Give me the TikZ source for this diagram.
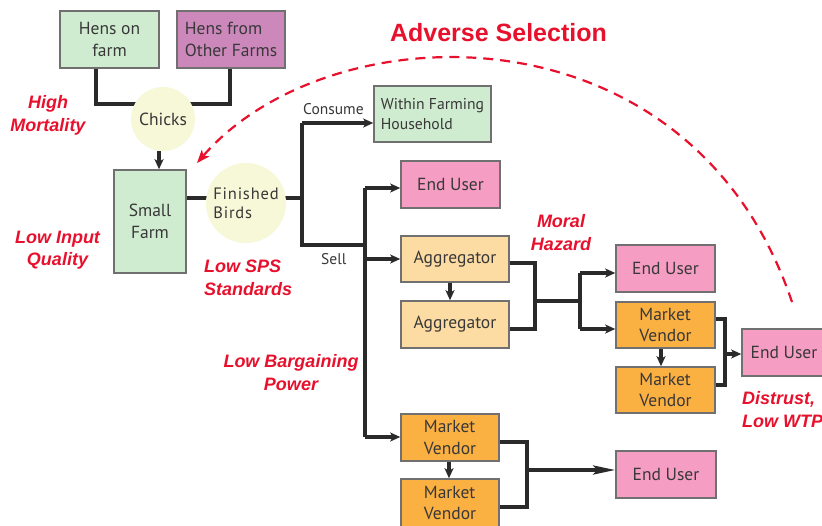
\documentclass[tikz,border=0pt]{standalone}
\usepackage{fontspec}
\setmainfont{PT Sans}
\newfontfamily\redfont{Liberation Sans}
\usetikzlibrary{arrows.meta,backgrounds}
\definecolor{greenbox}{HTML}{D0ECD0}
\definecolor{purplebox}{HTML}{CC88BB}
\definecolor{pinkbox}{HTML}{F69DC3}
\definecolor{aggbox}{HTML}{FDDCA4}
\definecolor{vendbox}{HTML}{FBB042}
\definecolor{circfill}{HTML}{F6F8D8}
\definecolor{boxline}{HTML}{707070}
\definecolor{ink}{HTML}{383838}
\definecolor{linkcol}{HTML}{2A2A2A}
\definecolor{warn}{HTML}{E8112D}

\begin{document}
\begin{tikzpicture}[x=1pt,y=-1pt,
  box/.style={draw=boxline, line width=1.6pt, inner sep=0pt, text=ink,
    font=\fontsize{17.5}{21.5}\selectfont, align=center},
  blob/.style={circle, fill=circfill, inner sep=0pt, text=ink},
  link/.style={draw=linkcol, line width=3.3pt},
  arr/.style={link, -{Stealth[length=10pt,width=9pt,inset=2.5pt]}},
  longarr/.style={link, -{Stealth[length=22pt,width=9pt,inset=4pt]}},
  warnlbl/.style={text=warn, font=\redfont\bfseries\itshape\fontsize{18}{22.5}\selectfont,
    inner sep=0pt, align=center},
  flowlbl/.style={text=ink, font=\fontsize{15.5}{18}\selectfont, inner sep=0pt},
  dashcurve/.style={draw=warn, line width=2.2pt, dash pattern=on 10pt off 7pt,
    -{Stealth[length=13pt,width=10pt,inset=3pt]}}
]
\useasboundingbox (0,0) rectangle (822,525);

% sources of chicks
\node[box, fill=greenbox, minimum width=99pt, minimum height=57pt] (hens) at (109.5,39.5) {Hens on\\farm};
\node[box, fill=purplebox, minimum width=108pt, minimum height=57pt, align=left] (other) at (231,39.5) {Hens from\\Other Farms};
\node[blob, minimum size=64pt, font=\fontsize{17.5}{21}\selectfont] (chicks) at (163,119) {Chicks};

% the farm and its output
\node[box, fill=greenbox, minimum width=72pt, minimum height=103pt] (farm) at (150,221.5) {Small\\Farm};
\node[blob, minimum size=80pt, align=left, font=\fontsize{16.5}{19}\selectfont] (birds) at (246,203) {\addfontfeature{LetterSpace=5}Finished\\\addfontfeature{LetterSpace=5}Birds};
\node[box, fill=greenbox, minimum width=117pt, minimum height=56pt, align=left,
  font=\fontsize{15.7}{20}\selectfont] (house) at (432.5,114) {Within Farming\\Household};

% market channels
\node[box, fill=pinkbox, minimum width=99pt, minimum height=47pt] (eu1) at (450.5,184.5) {End User};
\node[box, fill=aggbox, minimum width=108pt, minimum height=46pt] (ag1) at (455,259) {Aggregator};
\node[box, fill=aggbox, minimum width=108pt, minimum height=47pt] (ag2) at (455,324.5) {Aggregator};
\node[box, fill=pinkbox, minimum width=99pt, minimum height=47pt] (eu2) at (665.5,268.5) {End User};
\node[box, fill=vendbox, minimum width=99pt, minimum height=46pt, align=left] (mva) at (665.5,325) {Market\\Vendor};
\node[box, fill=vendbox, minimum width=99pt, minimum height=46pt, align=left] (mvb) at (665.5,390) {Market\\Vendor};
\node[box, fill=pinkbox, minimum width=84pt, minimum height=47pt] (eu3) at (784,352.5) {End User};
\node[box, fill=vendbox, minimum width=98pt, minimum height=47pt, align=left] (mvc) at (450,437.5) {Market\\Vendor};
\node[box, fill=vendbox, minimum width=98pt, minimum height=48pt, align=left] (mvd) at (450,503) {Market\\Vendor};
\node[box, fill=pinkbox, minimum width=100pt, minimum height=47pt] (eu4) at (666,474.5) {End User};

% flow labels
\node[flowlbl, anchor=base west] (consume) at (303,114) {Consume};
\node[flowlbl, anchor=base west] (sell) at (321,264) {Sell};

% junction points of the connectors
\coordinate (trunk) at (302,198);
\coordinate (cTop) at (302,123);
\coordinate (cBot) at (302,245);
\coordinate (sTop) at (365,188);
\coordinate (sBot) at (365,437);
\coordinate (aJoin) at (535,301);
\coordinate (aSplit) at (580,301);
\coordinate (vJoin) at (725,354);
\coordinate (bJoin) at (527,470);

\begin{scope}[on background layer]
  \fill[white] (0,0) rectangle (822,525);
  \draw[link] (96,0 |- hens.south) |- (chicks.center |- 0,104);
  \draw[link] (230,0 |- other.south) |- (chicks.center |- 0,104);
  \draw[link] (farm.east |- trunk) -- (trunk);
  \draw[link] (cTop) -- (cBot) -- (sTop |- cBot);
  \draw[link] (sTop) -- (sBot);
  \draw[link] (ag1.east |- 0,263) -| (aJoin |- 0,329) -- (ag2.east |- 0,329);
  \draw[link] (aJoin) -- (aSplit);
  \draw[link] (aSplit |- 0,273) -- (aSplit |- 0,329);
  \draw[link] (mva.east |- 0,319) -| (vJoin |- 0,385) -- (mvb.east |- 0,385);
  \draw[link] (mvc.east |- 0,442) -| (bJoin |- 0,507) -- (mvd.east |- 0,507);
\end{scope}

% arrows
\draw[arr] (159,0 |- chicks.south) -- (159,0 |- farm.north);
\draw[arr] (cTop) -- (house.west |- cTop);
\draw[arr] (sTop) -- (eu1.west |- sTop);
\draw[arr] (sTop |- ag1.west) -- (ag1.west);
\draw[arr] (sBot) -- (mvc.west |- sBot);
\draw[arr] (450,0 |- ag1.south) -- (450,0 |- ag2.north);
\draw[arr] (aSplit |- 0,273) -- (eu2.west |- 0,273);
\draw[arr] (aSplit |- 0,329) -- (mva.west |- 0,329);
\draw[arr] (661,0 |- mva.south) -- (661,0 |- mvb.north);
\draw[arr] (vJoin) -- (eu3.west |- vJoin);
\draw[arr] (449,0 |- mvc.south) -- (449,0 |- mvd.north);
\draw[longarr] (bJoin) -- (eu4.west |- bJoin);

% problems along the chain
\node[text=warn, font=\redfont\bfseries\fontsize{25}{30}\selectfont, inner sep=0pt, anchor=base] (adverse) at (498.5,41) {Adverse Selection};
\node[warnlbl] (mort) at (48,115.3) {High\\Mortality};
\node[warnlbl] (input) at (57.5,250.4) {Low Input\\Quality};
\node[warnlbl, anchor=west, align=left] (sps) at (204,278) {Low SPS\\Standards};
\node[warnlbl] (barg) at (291,372.5) {Low Bargaining\\Power};
\node[warnlbl] (moral) at (561,232.5) {Moral\\Hazard};
\node[warnlbl, anchor=west, align=left] (distrust) at (742,409.5) {Distrust,\\Low WTP};

% feedback of distrust to the farm
\coordinate (dStart) at (792,302);
\coordinate (dEnd) at (197,163);
\draw[dashcurve] (dStart) .. controls (690,0) and (330,10) .. (dEnd);
\end{tikzpicture}
\end{document}
